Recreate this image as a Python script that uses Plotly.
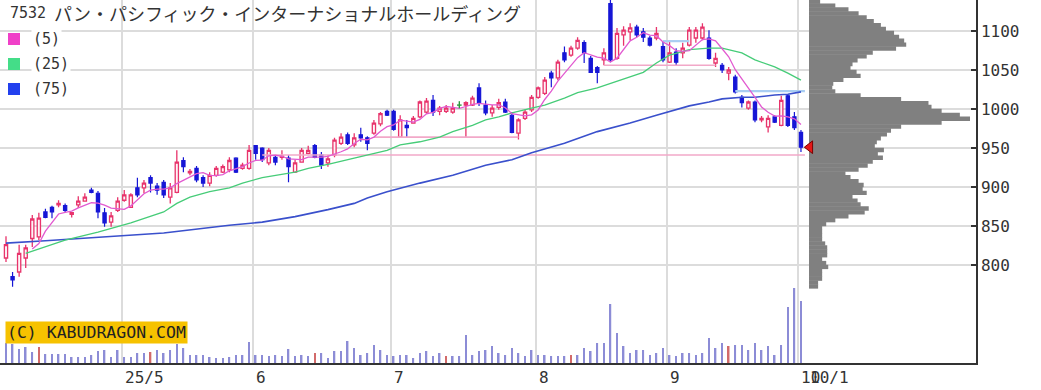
import plotly.graph_objects as go
import pandas as pd

# ---------------- data ----------------
title_code = "7532"
title_name = "パン・パシフィック・インターナショナルホールディング"

month_labels = ["25/5", "6", "7", "8", "9", "10"]
month_start_idx = [18, 38, 59, 81, 101, 121]
last_label = "10/1"

open_ = [809, 785, 791, 809, 834, 836, 868, 874, 877, 876, 865, 877, 882, 896, 892, 867, 855, 870, 883, 874,
         899, 899, 912, 901, 906, 887, 893, 934, 918, 924, 912, 905, 915, 919, 922, 937, 924, 924, 953, 950,
         931, 938, 938, 937, 919, 932, 943, 953, 941, 931, 941, 956, 967, 954, 967, 963, 969, 981, 997, 997,
         964, 979, 982, 990, 996, 1011, 997, 997, 996, 1005, 1005, 1005, 1027, 1005, 995, 1002, 1009, 992, 969, 988,
         999, 1015, 1020, 1046, 1040, 1072, 1069, 1078, 1085, 1065, 1053, 1063, 1135, 1065, 1095, 1099, 1105, 1099, 1091, 1091,
         1080, 1060, 1073, 1072, 1082, 1091, 1091, 1091, 1059, 1056, 1046, 1041, 1015, 1001, 1009, 986, 977, 990, 979, 1017,
         990, 970]
high = [837, 791, 826, 826, 864, 867, 872, 876, 883, 879, 868, 888, 892, 899, 895, 873, 868, 887, 896, 892,
        912, 909, 915, 905, 909, 905, 947, 938, 923, 927, 915, 919, 927, 929, 938, 938, 931, 954, 954, 951,
        950, 941, 947, 941, 935, 950, 953, 955, 945, 941, 963, 969, 970, 969, 976, 965, 986, 996, 999, 999,
        992, 986, 991, 1011, 1014, 1018, 1004, 1005, 1008, 1010, 1010, 1017, 1033, 1011, 1005, 1013, 1013, 996, 988, 999,
        1018, 1029, 1041, 1049, 1063, 1080, 1081, 1092, 1088, 1068, 1055, 1078, 1141, 1104, 1106, 1110, 1108, 1104, 1094, 1105,
        1086, 1086, 1078, 1085, 1105, 1105, 1110, 1101, 1072, 1059, 1054, 1044, 1018, 1011, 1011, 991, 992, 992, 1017, 1019,
        996, 973]
low = [804, 772, 785, 796, 823, 832, 860, 860, 874, 868, 861, 873, 881, 892, 860, 849, 849, 868, 881, 873,
       887, 892, 893, 890, 886, 879, 892, 919, 915, 906, 900, 901, 913, 918, 919, 918, 922, 922, 935, 932,
       928, 928, 935, 906, 918, 931, 942, 937, 923, 926, 938, 954, 954, 951, 958, 947, 967, 978, 991, 972,
       963, 964, 981, 988, 994, 991, 992, 995, 994, 1001, 963, 1004, 1004, 992, 990, 999, 995, 969, 961, 986,
       996, 1013, 1018, 1028, 1037, 1060, 1067, 1076, 1059, 1046, 1033, 1056, 1060, 1063, 1081, 1088, 1092, 1086, 1080, 1088,
       1060, 1059, 1056, 1065, 1080, 1085, 1088, 1063, 1054, 1046, 1037, 1020, 1002, 999, 983, 983, 970, 982, 978, 977,
       973, 945]
close = [826, 781, 815, 822, 859, 860, 861, 868, 879, 870, 867, 882, 887, 893, 868, 854, 863, 882, 890, 890,
         890, 905, 905, 896, 890, 899, 932, 926, 920, 909, 905, 915, 924, 926, 934, 919, 928, 947, 943, 935,
         947, 932, 940, 926, 931, 947, 947, 938, 928, 936, 960, 964, 956, 963, 963, 956, 982, 994, 992, 974,
         986, 976, 988, 1009, 1010, 996, 1001, 1001, 1001, 1005, 1008, 1014, 1008, 995, 1001, 1008, 996, 970, 986, 996,
         1015, 1027, 1037, 1040, 1060, 1063, 1078, 1088, 1072, 1047, 1047, 1072, 1063, 1097, 1101, 1104, 1095, 1092, 1082, 1097,
         1063, 1072, 1060, 1078, 1101, 1101, 1105, 1065, 1065, 1050, 1050, 1022, 1008, 1009, 986, 988, 988, 983, 1011, 979,
         976, 951]
volume_k = [6000, 5700, 4200, 4800, 3300, 4800, 2700, 2700, 2700, 2700, 1800, 1800, 1800, 2400, 3600, 3900, 1800, 3900, 1800, 1800,
            3000, 3000, 3300, 3900, 3000, 3900, 5700, 4500, 2400, 2400, 2400, 1800, 1500, 1500, 1800, 2400, 2400, 6300, 2400, 2400,
            2100, 2400, 2100, 4200, 2100, 2400, 2100, 3000, 3000, 1500, 3600, 3600, 6600, 4500, 2400, 3000, 5400, 3900, 2400, 2100,
            2400, 2400, 1500, 3000, 3600, 2100, 3000, 2100, 2100, 2100, 8400, 2400, 3600, 3900, 5100, 3000, 2400, 4500, 3000, 2100,
            3900, 2400, 2400, 2100, 2100, 2100, 2400, 2400, 4500, 3600, 6000, 6000, 17700, 9000, 5100, 3000, 3900, 3900, 2400, 3000,
            4500, 2400, 2100, 3000, 3000, 2400, 3000, 7500, 4500, 6000, 5100, 5400, 5400, 3900, 6000, 3900, 5100, 2400, 5400, 16800,
            22500, 18600]
red_volume_idx = [5, 22, 47, 67, 86, 110]

ma25_idx = [3, 9, 14, 19, 24, 26, 28, 31, 34, 36, 39, 41, 44, 46, 49, 53, 55, 58, 60, 63, 66, 68, 71, 73, 75, 77,
            80, 82, 85, 87, 90, 92, 95, 97, 99, 101, 104, 107, 109, 112, 114, 117, 119, 121]
ma25_val = [815, 832, 842, 854, 868, 879, 887, 894, 899, 905, 912, 915, 919, 924, 929, 937, 941, 947, 954, 958, 964, 971,
            979, 986, 990, 995, 1001, 1005, 1014, 1021, 1027, 1033, 1041, 1047, 1059, 1069, 1076, 1078, 1078, 1072, 1063,
            1054, 1046, 1037]
ma75_idx = [0, 6, 24, 34, 39, 44, 49, 53, 55, 58, 63, 68, 73, 77, 80, 85, 90, 95, 99, 102, 104, 107, 109, 112, 114,
            117, 119, 121]
ma75_val = [828, 831, 841, 851, 855, 862, 871, 879, 886, 894, 905, 915, 928, 935, 944, 956, 971, 982, 992, 999, 1004,
            1009, 1013, 1015, 1015, 1018, 1019, 1022]

profile_price = [772.5, 777.5, 782.5, 787.5, 792.5, 797.5, 802.5, 807.5, 812.5, 817.5, 822.5, 827.5, 832.5, 837.5,
                 842.5, 847.5, 852.5, 857.5, 862.5, 867.5, 872.5, 877.5, 882.5, 887.5, 892.5, 897.5, 902.5, 907.5,
                 912.5, 917.5, 922.5, 927.5, 932.5, 937.5, 942.5, 947.5, 952.5, 957.5, 962.5, 967.5, 972.5, 977.5,
                 982.5, 987.5, 992.5, 997.5, 1002.5, 1007.5, 1012.5, 1017.5, 1022.5, 1027.5, 1032.5, 1037.5, 1042.5,
                 1047.5, 1052.5, 1057.5, 1062.5, 1067.5, 1072.5, 1077.5, 1082.5, 1087.5, 1092.5, 1097.5, 1102.5,
                 1107.5, 1112.5, 1117.5, 1122.5, 1127.5, 1132.5, 1137.5]
profile_vol = [9, 9, 13, 13, 13, 19, 17, 13, 18, 18, 18, 16, 13, 13, 13, 13, 17, 26, 39, 55, 59, 51, 48, 43, 57, 53,
               54, 49, 41, 36, 49, 58, 63, 73, 68, 74, 65, 67, 71, 77, 81, 91, 131, 159, 149, 131, 121, 118, 91, 51,
               26, 23, 24, 34, 51, 47, 41, 43, 48, 57, 63, 86, 96, 94, 89, 84, 76, 71, 64, 57, 49, 39, 26, 11]

level_price = [941, 964, 1056, 1087, 1023]
level_from = [39, 56, 91, 100, 111]
level_to = [121.6, 78, 108, 104, 121.6]
level_kind = ["support", "support", "support", "resist", "resist"]

# ---------------- geometry / styles ----------------
PLOT_W, PLOT_H = 976, 363
PX_PER_DAY = 6.57
X0 = -6 / PX_PER_DAY
X1 = X0 + PLOT_W / PX_PER_DAY
Y_PER_PX = 0.78
Y1 = 1100 + 31 / Y_PER_PX
Y0 = Y1 - PLOT_H / Y_PER_PX
VOL_PER_PX = 300
PROF_BASE = X0 + 809 / PX_PER_DAY
PROF_MAXLEN = 161 / PX_PER_DAY

RED = "#e8336b"
BLUE = "#1616d6"
C5, C25, C75 = "#e25ad0", "#46cc78", "#3a50cc"
MONO = "DejaVu Sans Mono"
JP = "Noto Sans CJK JP"
TXT = "#333333"


def px(x):
    return x / PLOT_W


def py(y):
    return 1 - y / PLOT_H


idx = list(range(len(close)))
body_idx = [i for i in idx if open_[i] != close[i]]
doji_idx = [i for i in idx if open_[i] == close[i]]

fig = go.Figure()

# volume
vol_colors = ["#d26a6a" if i in red_volume_idx else "#8c8cd6" for i in idx]
fig.add_trace(go.Bar(x=idx, y=volume_k, width=0.24, marker=dict(color=vol_colors, line=dict(width=0)),
                     yaxis="y2", hoverinfo="skip"))

# volume profile
pmax = max(profile_vol)
fig.add_trace(go.Bar(orientation="h", y=profile_price, x=[v / pmax * PROF_MAXLEN for v in profile_vol],
                     base=PROF_BASE, width=5.6, marker=dict(color="#808080", line=dict(width=0)),
                     hoverinfo="skip"))

# level lines
for p, a, b, k in zip(level_price, level_from, level_to, level_kind):
    fig.add_trace(go.Scatter(x=[a, b], y=[p, p], mode="lines",
                             line=dict(color="#f2a8c8" if k == "support" else "#a9cdf2",
                                       width=1.6 if k == "support" else 2.2),
                             hoverinfo="skip"))

# moving averages
ma5 = pd.Series(close).rolling(5).mean()
fig.add_trace(go.Scatter(x=ma75_idx, y=ma75_val, mode="lines", line=dict(color=C75, width=1.6), hoverinfo="skip"))
fig.add_trace(go.Scatter(x=ma25_idx, y=ma25_val, mode="lines", line=dict(color=C25, width=1.3), hoverinfo="skip"))
fig.add_trace(go.Scatter(x=idx, y=ma5, mode="lines", line=dict(color=C5, width=1.3), hoverinfo="skip"))

# candles
fig.add_trace(go.Candlestick(
    x=body_idx,
    open=[open_[i] for i in body_idx], high=[high[i] for i in body_idx],
    low=[low[i] for i in body_idx], close=[close[i] for i in body_idx],
    increasing=dict(line=dict(color=RED, width=1.3), fillcolor="#fff4f7"),
    decreasing=dict(line=dict(color=BLUE, width=1.2), fillcolor=BLUE),
    whiskerwidth=0, hoverinfo="skip"))
for i in doji_idx:
    fig.add_trace(go.Scatter(x=[i, i, None, i - 0.35, i + 0.35], y=[low[i], high[i], None, open_[i], close[i]],
                             mode="lines", line=dict(color="#2a9a3a", width=1.4), hoverinfo="skip"))

# last price marker
fig.add_trace(go.Scatter(x=[idx[-1] + 1.35], y=[close[-1]], mode="markers",
                         marker=dict(symbol="triangle-left", size=11, color="#e41818",
                                     line=dict(color="#7a0000", width=1)), hoverinfo="skip"))

annotations = []
# title
annotations.append(dict(text=title_code, xref="paper", yref="paper", x=px(8), y=py(13), xanchor="left",
                        yanchor="middle", showarrow=False, font=dict(family=MONO, size=15, color=TXT)))
annotations.append(dict(text=title_name, xref="paper", yref="paper", x=px(52), y=py(13), xanchor="left",
                        yanchor="middle", showarrow=False, font=dict(family=JP, size=18, color=TXT)))
# legend
shapes = []
for k, (lab, col) in enumerate([("(5)", "#f040c8"), ("(25)", "#44dd88"), ("(75)", "#2240ee")]):
    yc = 39 + 25 * k
    shapes.append(dict(type="rect", xref="paper", yref="paper", x0=px(8), x1=px(20), y0=py(yc - 6), y1=py(yc + 6),
                       fillcolor=col, line=dict(width=0), layer="above"))
    annotations.append(dict(text=lab, xref="paper", yref="paper", x=px(31), y=py(yc), xanchor="left",
                            yanchor="middle", showarrow=False, bgcolor="white",
                            font=dict(family=MONO, size=15, color=TXT)))
# watermark
annotations.append(dict(text="(C) KABUDRAGON.COM", xref="paper", yref="paper", x=px(5), y=py(332.5),
                        xanchor="left", yanchor="middle", showarrow=False, bgcolor="#f6c200", borderpad=1,
                        font=dict(family=MONO, size=16.5, color="#222222")))
# date labels (the month label "10" and the latest date "10/1" overlap in the original)
for lab, m in zip(month_labels, month_start_idx):
    annotations.append(dict(text=lab, x=m - 0.38, xref="x", yref="paper", y=0, xanchor="left", yanchor="top",
                            xshift=1, yshift=-3, showarrow=False, font=dict(family=MONO, size=16, color=TXT)))
annotations.append(dict(text=last_label, x=month_start_idx[-1] - 0.38, xref="x", yref="paper", y=0,
                        xanchor="left", yanchor="top", xshift=10, yshift=-3, showarrow=False,
                        font=dict(family=MONO, size=16, color=TXT)))

fig.update_layout(
    width=1041, height=390, margin=dict(l=0, r=1041 - PLOT_W, t=0, b=390 - PLOT_H),
    paper_bgcolor="white", plot_bgcolor="white", showlegend=False, barmode="overlay",
    annotations=annotations, shapes=shapes,
    xaxis=dict(range=[X0, X1], tickvals=[m - 0.38 for m in month_start_idx], showticklabels=False, ticks="",
               showgrid=True, gridcolor="#dcdcdc", gridwidth=1.5, zeroline=False, showline=True,
               linecolor="#333333", linewidth=1.5, rangeslider=dict(visible=False), fixedrange=True),
    yaxis=dict(range=[Y0, Y1], side="right", tickvals=[800, 850, 900, 950, 1000, 1050, 1100],
               ticks="inside", ticklen=5, tickwidth=1.5, tickcolor="#333333", showline=True,
               linecolor="#333333", linewidth=1.5, showgrid=True, gridcolor="#dcdcdc", gridwidth=1.5,
               zeroline=False, tickfont=dict(family=MONO, size=16, color=TXT), fixedrange=True),
    yaxis2=dict(range=[0, PLOT_H * VOL_PER_PX], overlaying="y", visible=False, fixedrange=True),
)

fig.write_html("out.html")
